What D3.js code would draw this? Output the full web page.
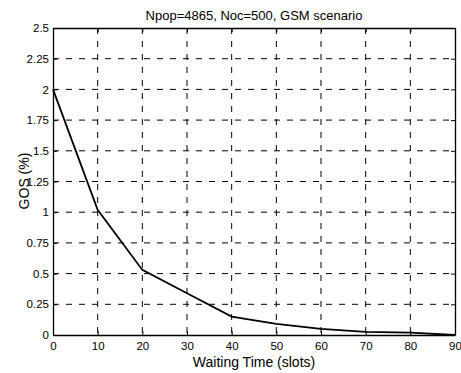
<!DOCTYPE html>
<html>
<head>
    <meta charset="utf-8">
    <style>
        body { margin: 0; background: #fff; }
        svg { font-family: 'Liberation Sans', Arial, sans-serif; }
        .grid line { stroke: #000; stroke-dasharray: 6, 7; stroke-width: 1; }
        .grid .domain { display: none; }
        .tick text { font-size: 11.5px; fill: #000; }
    </style>
</head>
<body>
    <figure style="margin:0"></figure>
    <script src="https://d3js.org/d3.v7.min.js"></script>
    <script>
        // chart data
        const waitingTime = [0, 10, 20, 30, 40, 50, 60, 70, 80, 90]
        const gos = [2.0, 1.02, 0.53, 0.34, 0.15, 0.09, 0.05, 0.025, 0.019, 0.0]
        const xTicks = [0, 10, 20, 30, 40, 50, 60, 70, 80, 90]
        const yTicks = [0, 0.25, 0.5, 0.75, 1, 1.25, 1.5, 1.75, 2, 2.25, 2.5]
        const titleText = 'Npop=4865, Noc=500, GSM scenario'

        const W = 461, H = 373
        const margin = { left: 53, right: 6, top: 28, bottom: 38 }
        const iw = W - margin.left - margin.right
        const ih = H - margin.top - margin.bottom

        const svg = d3.select('figure').append('svg')
            .attr('width', W).attr('height', H)

        const g = svg.append('g')
            .attr('transform', `translate(${margin.left},${margin.top})`)

        const x = d3.scaleLinear().domain([0, 90]).range([0, iw])
        const y = d3.scaleLinear().domain([0, 2.5]).range([ih, 0])

        // dashed grid
        g.append('g').attr('class', 'grid')
            .selectAll('line.v').data(xTicks.slice(1, -1)).enter().append('line')
            .attr('x1', d => x(d)).attr('x2', d => x(d))
            .attr('y1', 0).attr('y2', ih)
        g.append('g').attr('class', 'grid')
            .selectAll('line.h').data(yTicks.slice(1, -1)).enter().append('line')
            .attr('x1', 0).attr('x2', iw)
            .attr('y1', d => y(d)).attr('y2', d => y(d))

        // axes (ticks inside)
        g.append('g').attr('transform', `translate(0,${ih})`)
            .call(d3.axisBottom(x).tickValues(xTicks).tickSizeInner(-4).tickSizeOuter(0).tickPadding(7))
        g.append('g')
            .call(d3.axisLeft(y).tickValues(yTicks).tickSizeInner(-4).tickSizeOuter(0).tickPadding(4)
                .tickFormat(d => String(d)))
        g.append('g')
            .call(d3.axisTop(x).tickValues(xTicks).tickSizeInner(-4).tickSizeOuter(0).tickFormat(''))
        g.append('g').attr('transform', `translate(${iw},0)`)
            .call(d3.axisRight(y).tickValues(yTicks).tickSizeInner(-4).tickSizeOuter(0).tickFormat(''))

        g.selectAll('.domain').attr('stroke', '#000').attr('stroke-width', 1.3)
        g.selectAll('.tick line').attr('stroke', '#000')

        // curve
        const line = d3.line().x((d, i) => x(waitingTime[i])).y(d => y(d))
        g.append('path').datum(gos)
            .attr('d', line)
            .attr('fill', 'none')
            .attr('stroke', '#000')
            .attr('stroke-width', 1.8)

        // labels
        svg.append('text')
            .attr('x', margin.left + iw / 2).attr('y', 20)
            .attr('text-anchor', 'middle')
            .style('font-size', '13px')
            .text(titleText)

        svg.append('text')
            .attr('x', margin.left + iw / 2).attr('y', 367)
            .attr('text-anchor', 'middle')
            .style('font-size', '14px')
            .text('Waiting Time (slots)')

        svg.append('text')
            .attr('transform', `translate(29,181) rotate(-90)`)
            .attr('text-anchor', 'middle')
            .style('font-size', '14px')
            .text('GOS (%)')
    </script>
</body>
</html>
